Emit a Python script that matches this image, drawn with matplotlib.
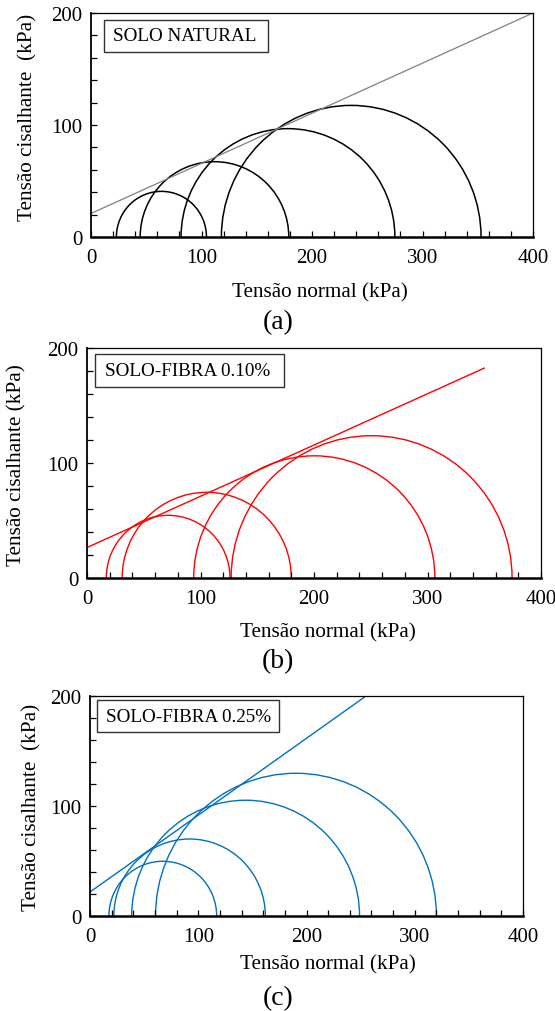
import matplotlib
matplotlib.use('Agg')
import matplotlib.pyplot as plt
from matplotlib.patches import Arc, Rectangle
from matplotlib.ticker import MultipleLocator

plt.rcParams['font.family'] = ['Liberation Serif', 'DejaVu Serif']

# principal stresses (kPa) of each Mohr circle: sigma3 and sigma1
natural_s3 = [23, 44.5, 81.5, 118]
natural_s1 = [104.5, 179, 275, 353]
natural_env_x = [0, 400]
natural_env_y = [21, 200]

fibra010_s3 = [17, 31, 94, 127]
fibra010_s1 = [126, 180, 306.5, 374.5]
fibra010_env_x = [0, 350]
fibra010_env_y = [26.5, 182.5]

fibra025_s3 = [17.5, 22, 38.5, 60.5]
fibra025_s1 = [117, 162, 249, 320]
fibra025_env_x = [0, 255]
fibra025_env_y = [21.8, 200]

titles = ['SOLO NATURAL', 'SOLO-FIBRA 0.10%', 'SOLO-FIBRA 0.25%']
ylabels = ['Tensão cisalhante  (kPa)', 'Tensão cisalhante (kPa)',
           'Tensão cisalhante  (kPa)']
panel_tags = ['(a)', '(b)', '(c)']

W, H = 555, 1012
fig = plt.figure(figsize=(W / 100, H / 100), dpi=100)


def px_axes(x0, x1, y0, y1):
    return fig.add_axes([x0 / W, 1 - y1 / H, (x1 - x0) / W, (y1 - y0) / H])


axes = [px_axes(91, 533, 14, 238),
        px_axes(87, 541, 349, 579),
        px_axes(90, 523, 697, 917)]

data = [(natural_s3, natural_s1, natural_env_x, natural_env_y, 'black', '#808080'),
        (fibra010_s3, fibra010_s1, fibra010_env_x, fibra010_env_y, '#ff0000', '#ff0000'),
        (fibra025_s3, fibra025_s1, fibra025_env_x, fibra025_env_y, '#0070c0', '#0070c0')]

# box (axes fraction): x, y, w, h ; text x
boxes = [(0.029, 0.826, 0.371, 0.143, 0.050),
         (0.018, 0.830, 0.416, 0.144, 0.040),
         (0.016, 0.836, 0.420, 0.146, 0.037)]
ylab_pos = [(-0.1425, 0.536), (-0.154, 0.496), (-0.134, 0.50)]
xlab_pos = [(0.517, -0.2455), (0.531, -0.235), (0.55, -0.218)]
tag_y = [323, 662, 999]

for i, ax in enumerate(axes):
    s3, s1, ex, ey, ccol, ecol = data[i]
    for a, b in zip(s3, s1):
        d = b - a
        ax.add_patch(Arc(((a + b) / 2, 0), d, d, theta1=0, theta2=180,
                         color=ccol, lw=1.1 if i == 0 else 1.0))
    ax.plot(ex, ey, color=ecol, lw=1.0 if i else 0.9, clip_on=True)

    ax.set_xlim(0, 400)
    ax.set_ylim(0, 200)
    ax.xaxis.set_major_locator(MultipleLocator(100))
    ax.xaxis.set_minor_locator(MultipleLocator(20))
    ax.yaxis.set_major_locator(MultipleLocator(100))
    ax.yaxis.set_minor_locator(MultipleLocator(20))
    ax.tick_params(which='both', direction='in', length=4, width=0.9,
                   labelsize=15)
    ax.tick_params(axis='x', which='both', pad=8)
    ax.tick_params(axis='y', which='both', pad=6)
    ax.spines['bottom'].set_linewidth(1.8)
    ax.spines['left'].set_linewidth(1.3)
    ax.spines['top'].set_linewidth(0.9)
    ax.spines['right'].set_linewidth(0.9)

    bx, by, bw, bh, tx = boxes[i]
    ax.add_patch(Rectangle((bx, by), bw, bh, transform=ax.transAxes,
                           fill=False, ec='#333333', lw=1.0))
    ax.text(tx, by + bh / 2, titles[i], transform=ax.transAxes,
            ha='left', va='center', fontsize=13.8)

    ax.set_ylabel(ylabels[i], fontsize=15.3, va='center')
    ax.yaxis.set_label_coords(*ylab_pos[i])
    ax.set_xlabel('Tensão normal (kPa)', fontsize=15.2, va='center')
    ax.xaxis.set_label_coords(*xlab_pos[i])

    fig.text(278 / W, 1 - tag_y[i] / H, panel_tags[i], ha='center',
             va='center', fontsize=20)

fig.savefig('out.png', dpi=100)
